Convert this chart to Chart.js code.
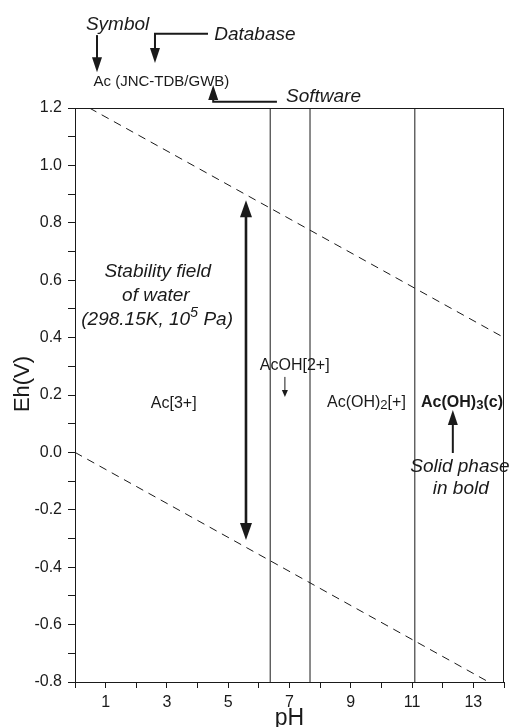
<!DOCTYPE html>
<html><head><meta charset="utf-8">
<script src="https://cdn.jsdelivr.net/npm/chart.js@4.4.1/dist/chart.umd.min.js"></script>
<style>html,body{margin:0;padding:0;background:#fff;} canvas{display:block;}</style>
</head><body>
<canvas id="c" width="514" height="727" style="width:514px;height:727px"></canvas>
<script>
const FONT = '"Liberation Sans", Arial, Helvetica, sans-serif';

// ---- axis ranges / tick labels ----
const phRange = [0, 14];
const ehRange = [-0.8, 1.2];
const phTickLabels = [1, 3, 5, 7, 9, 11, 13];
const ehTickLabels = [-0.8, -0.6, -0.4, -0.2, 0.0, 0.2, 0.4, 0.6, 0.8, 1.0, 1.2];

// ---- water stability limits (pH, Eh) ----
const upperWaterPH = [0.47, 14];
const upperWaterEh = [1.2, 0.40];
const lowerWaterPH = [0, 13.5];
const lowerWaterEh = [0, -0.8];

// ---- predominance boundaries (vertical lines) ----
const boundaryPH = [6.37, 7.67, 11.09];
const boundaryEh = [-0.8, 1.2];

// ---- species labels (data units) ----
const speciesNames = ['Ac[3+]', 'AcOH[2+]', 'Ac(OH)_2[+]', 'Ac(OH)_3(c)'];
const speciesPH = [3.22, 7.17, 9.51, 12.63];
const speciesEh = [0.174, 0.308, 0.178, 0.178];
const speciesSolid = [false, false, false, true];

// ---- explanatory notes (data units) ----
const noteTexts = ['Symbol', 'Database', 'Software', 'Stability field', 'of water', '(298.15K, 10^5 Pa)', 'Solid phase', 'in bold'];
const notePH = [1.39, 5.87, 8.11, 2.70, 2.64, 2.68, 12.56, 12.59];
const noteEh = [1.496, 1.459, 1.246, 0.635, 0.551, 0.468, -0.046, -0.122];
const headerText = 'Ac (JNC-TDB/GWB)';
const headerPH = 2.82;
const headerEh = 1.296;

// ---- arrows (data units, tail -> tip) ----
const arrowPH = [[0.718, 0.718], [4.34, 2.61, 2.61], [6.59, 4.51, 4.51], [5.58, 5.58], [6.85, 6.85], [12.33, 12.33]];
const arrowEh = [[1.454, 1.325], [1.459, 1.459, 1.357], [1.222, 1.222, 1.280], [-0.305, 0.879], [0.263, 0.193], [-0.002, 0.148]];
const arrowDouble = [false, false, false, true, false, false];

// styles for arrows (not data)
const arrowStyle = [
  {lw: 2, len: 15, wid: 10},
  {lw: 2, len: 15, wid: 10},
  {lw: 2, len: 15, wid: 10},
  {lw: 2.6, len: 17, wid: 12},
  {lw: 1, len: 7, wid: 6},
  {lw: 2, len: 15, wid: 10}
];

const INK = '#1a1a1a';

function pts(xs, ys) { return xs.map((x, i) => ({x: x, y: ys[i]})); }

const datasets = [
  {data: pts(upperWaterPH, upperWaterEh), borderDash: [8, 6]},
  {data: pts(lowerWaterPH, lowerWaterEh), borderDash: [8, 6]}
].concat(boundaryPH.map(p => ({data: pts([p, p], boundaryEh)})))
 .map(d => Object.assign({showLine: true, pointRadius: 0, borderColor: INK, borderWidth: 1, fill: false}, d));

function parseRich(s) {
  const segs = []; let cur = ''; let i = 0;
  while (i < s.length) {
    const ch = s[i];
    if ((ch === '_' || ch === '^') && i + 1 < s.length) {
      if (cur) { segs.push({t: cur, m: 0}); cur = ''; }
      segs.push({t: s[i + 1], m: ch === '_' ? 1 : -1});
      i += 2;
    } else { cur += ch; i++; }
  }
  if (cur) segs.push({t: cur, m: 0});
  return segs;
}
function drawRich(ctx, s, cx, capCy, size, style) {
  const segs = parseRich(s);
  const fnt = sz => `${style} ${sz}px ${FONT}`;
  let w = 0;
  segs.forEach(g => { g.sz = g.m === 1 ? size * 0.82 : (g.m === -1 ? size * 0.76 : size); ctx.font = fnt(g.sz); g.w = ctx.measureText(g.t).width; w += g.w; });
  let x = cx - w / 2;
  const base = capCy + 0.358 * size;
  ctx.textBaseline = 'alphabetic'; ctx.textAlign = 'left';
  segs.forEach(g => {
    ctx.font = fnt(g.sz);
    const dy = g.m === 1 ? size * 0.14 : (g.m === -1 ? -size * 0.43 : 0);
    ctx.fillText(g.t, x, base + dy);
    x += g.w;
  });
}
function head(ctx, x1, y1, x2, y2, len, wid) {
  const a = Math.atan2(y2 - y1, x2 - x1), c = Math.cos(a), s = Math.sin(a);
  ctx.beginPath();
  ctx.moveTo(x2, y2);
  ctx.lineTo(x2 - len * c + wid / 2 * s, y2 - len * s - wid / 2 * c);
  ctx.lineTo(x2 - len * c - wid / 2 * s, y2 - len * s + wid / 2 * c);
  ctx.closePath(); ctx.fill();
}

const annot = {
  id: 'annot',
  afterDraw(chart) {
    const ctx = chart.ctx, xs = chart.scales.x, ys = chart.scales.y, a = chart.chartArea;
    ctx.save();
    // frame
    ctx.strokeStyle = INK; ctx.lineWidth = 1;
    ctx.strokeRect(a.left + 0.5, a.top + 0.5, a.right - a.left - 1, a.bottom - a.top);
    ctx.fillStyle = INK;
    // species
    speciesNames.forEach((n, i) => drawRich(ctx, n, xs.getPixelForValue(speciesPH[i]), ys.getPixelForValue(speciesEh[i]), 16, speciesSolid[i] ? 'bold' : ''));
    // header
    drawRich(ctx, headerText, xs.getPixelForValue(headerPH), ys.getPixelForValue(headerEh), 15, '');
    // notes
    noteTexts.forEach((n, i) => drawRich(ctx, n, xs.getPixelForValue(notePH[i]), ys.getPixelForValue(noteEh[i]), 19, 'italic'));
    // arrows
    arrowPH.forEach((px, i) => {
      const st = arrowStyle[i];
      const P = px.map((p, j) => [xs.getPixelForValue(p), ys.getPixelForValue(arrowEh[i][j])]);
      const n = P.length;
      const shorten = (p0, p1, d) => { const L = Math.hypot(p1[0] - p0[0], p1[1] - p0[1]); return [p1[0] - (p1[0] - p0[0]) * d / L, p1[1] - (p1[1] - p0[1]) * d / L]; };
      const end = shorten(P[n - 2], P[n - 1], st.len * 0.6);
      const start = arrowDouble[i] ? shorten(P[1], P[0], st.len * 0.6) : P[0];
      ctx.lineWidth = st.lw; ctx.lineCap = 'butt'; ctx.lineJoin = 'miter';
      ctx.beginPath(); ctx.moveTo(start[0], start[1]);
      for (let j = 1; j < n - 1; j++) ctx.lineTo(P[j][0], P[j][1]);
      ctx.lineTo(end[0], end[1]); ctx.stroke();
      head(ctx, P[n - 2][0], P[n - 2][1], P[n - 1][0], P[n - 1][1], st.len, st.wid);
      if (arrowDouble[i]) head(ctx, P[1][0], P[1][1], P[0][0], P[0][1], st.len, st.wid);
    });
    ctx.restore();
  }
};

const near = (v, arr) => arr.some(t => Math.abs(t - v) < 1e-6);

new Chart(document.getElementById('c'), {
  type: 'scatter',
  data: {datasets: datasets},
  options: {
    responsive: false,
    animation: false,
    devicePixelRatio: 1,
    layout: {padding: {left: 0, right: 10, top: 108, bottom: 0}},
    plugins: {legend: {display: false}, tooltip: {enabled: false}},
    scales: {
      x: {
        type: 'linear', min: phRange[0], max: phRange[1],
        afterFit: s => { s.height = 45; },
        border: {display: true, color: INK, width: 1},
        grid: {drawOnChartArea: false, drawTicks: true, tickLength: 6, color: INK},
        ticks: {stepSize: 1, autoSkip: false, maxRotation: 0, padding: 5, color: INK,
          font: {family: FONT, size: 16},
          callback: v => near(v, phTickLabels) ? String(Math.round(v)) : ''},
        title: {display: true, text: 'pH', color: INK, font: {family: FONT, size: 23, lineHeight: 1}, padding: {top: 0, bottom: -3}}
      },
      y: {
        type: 'linear', min: ehRange[0], max: ehRange[1],
        afterFit: s => { s.width = 75; },
        border: {display: true, color: INK, width: 1},
        grid: {drawOnChartArea: false, drawTicks: true, tickLength: 7, color: INK},
        ticks: {stepSize: 0.1, autoSkip: false, padding: 6, color: INK,
          font: {family: FONT, size: 16},
          callback: v => near(v, ehTickLabels) ? Number(v).toFixed(1) : ''},
        title: {display: true, text: '\u2002\u2002Eh(V)', color: INK, font: {family: FONT, size: 22, lineHeight: 1}, padding: {top: 12, bottom: 0}}
      }
    }
  },
  plugins: [annot]
});
</script>
</body></html>
